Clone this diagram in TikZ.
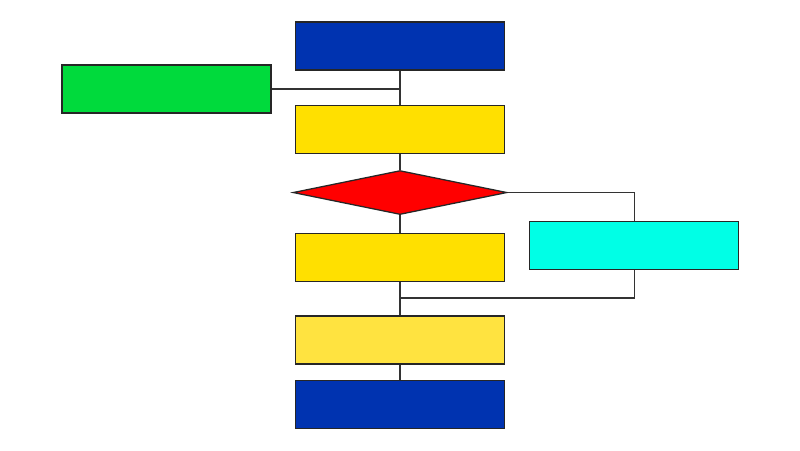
\documentclass[tikz,border=0pt]{standalone}
\usepackage{tikz}
\usetikzlibrary{shapes.geometric, positioning}

\definecolor{boxblue}{RGB}{0,51,176}
\definecolor{boxgreen}{RGB}{0,218,60}
\definecolor{boxyellow}{RGB}{255,224,0}
\definecolor{paleyellow}{RGB}{255,227,64}
\definecolor{boxcyan}{RGB}{0,255,230}
\definecolor{linegray}{RGB}{51,51,51}

\tikzset{
  block/.style={draw=black!85, line width=0.9pt, minimum width=5.225cm, minimum height=1.2cm, inner sep=0pt},
  choice/.style={diamond, draw=black!85, line width=0.9pt, fill=red, minimum width=5.35cm, minimum height=1.1cm, inner sep=0pt},
  wire/.style={draw=linegray, line width=0.9pt}
}

\begin{document}
\begin{tikzpicture}
    \useasboundingbox (0,0) rectangle (20,-11.25);

		\node (start) [block, fill=boxblue] at (10,-1.15) {};
		\node[below =0.85cm of start] (prep) [block, fill=boxyellow] {};
		\node (input) [block, fill=boxgreen] at (4.1625,-2.225) {};
		\draw [wire] (start) -- (prep) (input) -- (input -| start);

		\node[below =0.4cm of prep] (test) [choice] {};
		\node[below =0.45cm of test] (work) [block, fill=boxyellow] {};
		\node[right =0.6cm of work, yshift=0.3cm] (alt) [block, fill=boxcyan] {};
		\draw [wire] (prep) -- (test) (test) -- (work);
		\draw [wire] (test.east) -| (alt.north);

		\coordinate (merge) at (10,-7.45);
		\draw [wire] (alt.south) |- (merge);

		\node[below =0.825cm of work] (post) [block, fill=paleyellow] {};
		\node[below =0.375cm of post] (stop) [block, fill=boxblue] {};
		\draw [wire] (work) -- (post) (post) -- (stop);
	\end{tikzpicture}
\end{document}
